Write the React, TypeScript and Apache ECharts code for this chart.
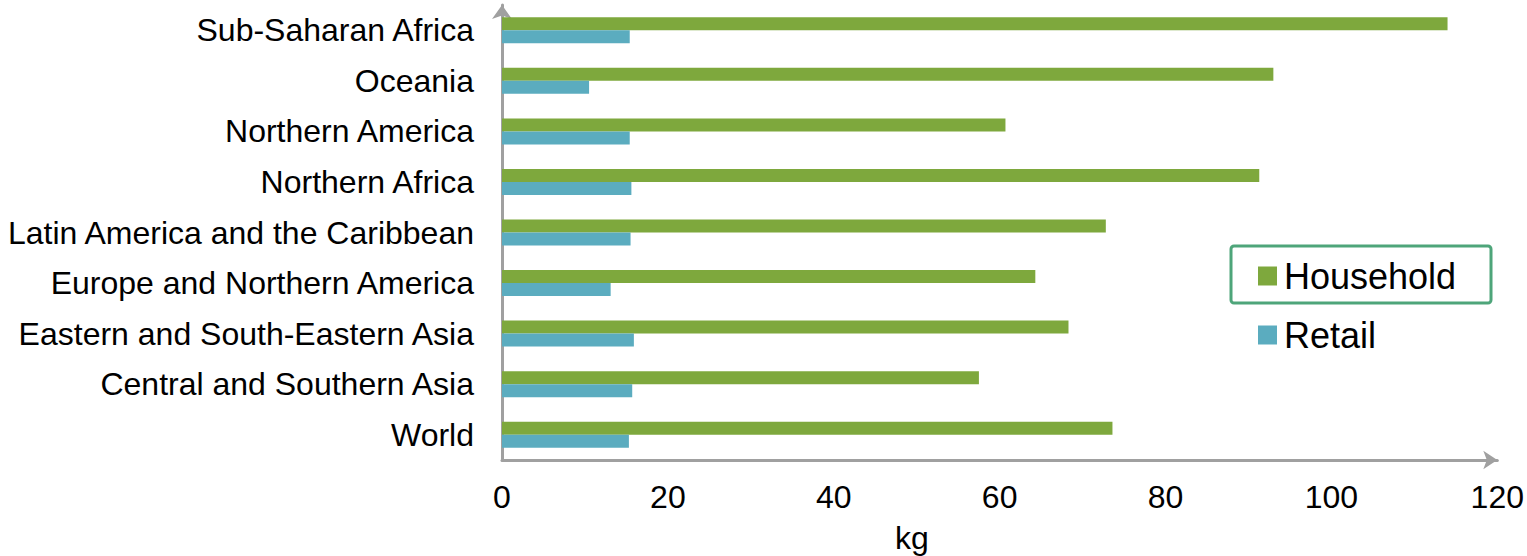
import React, { useEffect, useRef } from "react";
import * as echarts from "echarts";

// Food waste per capita (kg / year), by region
const regions = [
  "World",
  "Central and Southern Asia",
  "Eastern and South-Eastern Asia",
  "Europe and Northern America",
  "Latin America and the Caribbean",
  "Northern Africa",
  "Northern America",
  "Oceania",
  "Sub-Saharan Africa",
];
const household = [73.6, 57.5, 68.3, 64.3, 72.8, 91.3, 60.7, 93.0, 114.0];
const retail = [15.3, 15.7, 15.9, 13.1, 15.5, 15.6, 15.4, 10.5, 15.4];
const xTicks = [0, 20, 40, 60, 80, 100, 120];

const GREEN = "#7EA83D";
const BLUE = "#5BACBF";
const AXIS = "#A0A0A0";
const FONT = "'Liberation Sans', Arial, sans-serif";

export default function App() {
  const ref = useRef<HTMLDivElement>(null);

  useEffect(() => {
    if (!ref.current) return;
    const chart = echarts.init(ref.current, undefined, { renderer: "svg" });
    chart.setOption({
      animation: false,
      textStyle: { fontFamily: FONT },
      grid: { left: 502, right: 29, top: 5, bottom: 96, containLabel: false },
      legend: {
        data: ["Household", "Retail"],
        orient: "vertical",
        left: 1253,
        top: 251,
        icon: "rect",
        itemWidth: 19,
        itemHeight: 19,
        itemGap: 19,
        selectedMode: false,
        textStyle: {
          fontSize: 36,
          lineHeight: 40,
          color: "#000",
          fontFamily: FONT,
          padding: [0, 0, 0, 2],
        },
      },
      xAxis: {
        type: "value",
        min: xTicks[0],
        max: xTicks[xTicks.length - 1],
        interval: 20,
        axisLine: {
          show: true,
          lineStyle: { color: AXIS, width: 3 },
          symbol: ["none", "arrow"],
          symbolSize: [14, 14],
        },
        axisTick: { show: false },
        splitLine: { show: false },
        axisLabel: { fontSize: 32, color: "#000", margin: 21, fontFamily: FONT },
      },
      yAxis: {
        type: "category",
        data: regions,
        axisLine: {
          show: true,
          lineStyle: { color: AXIS, width: 3 },
          symbol: ["none", "arrow"],
          symbolSize: [15, 14],
        },
        axisTick: { show: false },
        axisLabel: { fontSize: 32, color: "#000", margin: 28, fontFamily: FONT },
      },
      series: [
        {
          name: "Household",
          type: "bar",
          data: household,
          barWidth: 13,
          barGap: "0%",
          itemStyle: { color: GREEN },
        },
        {
          name: "Retail",
          type: "bar",
          data: retail,
          barWidth: 13,
          barGap: "0%",
          itemStyle: { color: BLUE },
        },
      ],
      graphic: [
        {
          type: "rect",
          shape: { x: 1231, y: 246, width: 260, height: 57, r: 3 },
          style: { fill: "none", stroke: "#4EA57A", lineWidth: 3 },
        },
        {
          type: "text",
          x: 912,
          y: 538,
          style: {
            text: "kg",
            fontSize: 32,
            fontFamily: FONT,
            fill: "#000",
            align: "center",
            verticalAlign: "middle",
          },
        },
      ],
    });
    return () => chart.dispose();
  }, []);

  return (
    <div
      ref={ref}
      style={{ position: "absolute", left: 0, top: 0, width: 1527, height: 556 }}
    />
  );
}
